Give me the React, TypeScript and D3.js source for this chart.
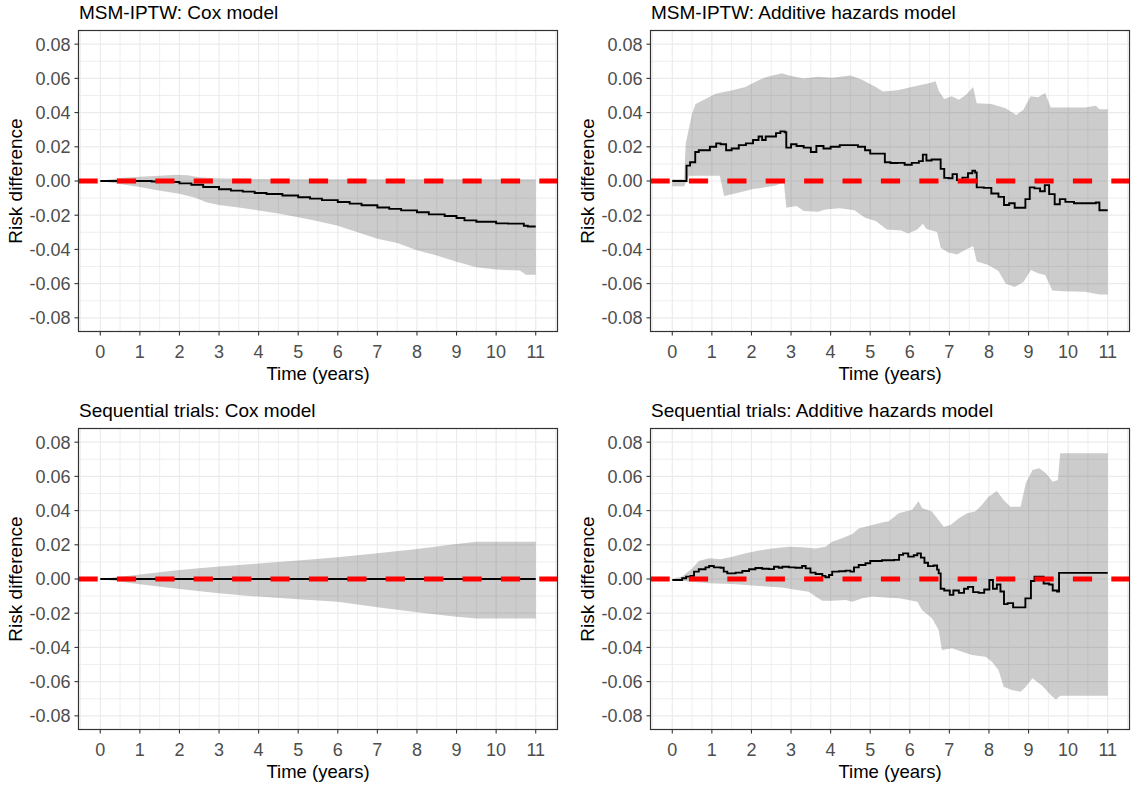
import * as d3 from "d3";

type Pt = [number, number];

const xTicks = d3.range(0, 12);
const xMinor = d3.range(-0.5, 12, 1);
const yTicks = [-0.08, -0.06, -0.04, -0.02, 0, 0.02, 0.04, 0.06, 0.08];
const yMinor = [-0.07, -0.05, -0.03, -0.01, 0.01, 0.03, 0.05, 0.07];

// MSM-IPTW: Cox model
const msmCoxEst: Pt[] = [[0,0],[0.5,0],[1,0],[1.3,-0.0003],[1.6,-0.0006],[2,-0.0014],[2.3,-0.0022],[2.6,-0.0035],[3,-0.0048],[3.3,-0.0056],[3.6,-0.0062],[3.9,-0.007],[4.2,-0.0076],[4.6,-0.0085],[5,-0.0095],[5.3,-0.0103],[5.6,-0.0112],[6,-0.0123],[6.3,-0.0132],[6.6,-0.0142],[7,-0.0155],[7.3,-0.0163],[7.6,-0.0172],[8,-0.0183],[8.3,-0.0195],[8.7,-0.0205],[9,-0.0216],[9.2,-0.023],[9.5,-0.0238],[10,-0.0248],[10.3,-0.0249],[10.7,-0.0262],[10.8,-0.0266],[11,-0.0266]];
const msmCoxHi: Pt[] = [[0,0],[0.5,0.0018],[1,0.0025],[1.5,0.003],[1.9,0.0036],[2.2,0.0034],[2.5,0.0022],[2.9,0.0016],[3.5,0.0013],[4,0.0012],[5,0.001],[7,0.001],[9,0.001],[11,0.001]];
const msmCoxLo: Pt[] = [[0,0],[0.5,-0.0018],[1,-0.0035],[1.3,-0.0048],[1.6,-0.006],[2,-0.0075],[2.4,-0.0098],[2.7,-0.0125],[3,-0.014],[3.5,-0.0155],[4,-0.0172],[4.5,-0.019],[5,-0.0212],[5.5,-0.0235],[6,-0.0262],[6.5,-0.03],[7,-0.0338],[7.5,-0.0362],[8,-0.0405],[8.5,-0.0435],[9,-0.0472],[9.5,-0.0505],[10,-0.0518],[10.6,-0.0524],[10.75,-0.0548],[11,-0.0548]];

// MSM-IPTW: Additive hazards model
const msmAddEst: Pt[] = [[0,0],[0.3,0],[0.36,0.009],[0.45,0.011],[0.58,0.017],[0.67,0.018],[0.86,0.018],[0.95,0.02],[1.11,0.022],[1.22,0.0215],[1.36,0.018],[1.5,0.019],[1.68,0.021],[1.86,0.022],[2.04,0.024],[2.18,0.026],[2.27,0.024],[2.36,0.026],[2.5,0.026],[2.62,0.028],[2.73,0.029],[2.84,0.0285],[2.88,0.0195],[3,0.0215],[3.14,0.0205],[3.32,0.0195],[3.5,0.017],[3.64,0.0205],[3.82,0.019],[4,0.02],[4.23,0.021],[4.5,0.021],[4.69,0.02],[4.87,0.018],[5,0.016],[5.23,0.016],[5.37,0.011],[5.51,0.0105],[5.69,0.0106],[5.87,0.0095],[6.05,0.0106],[6.23,0.0116],[6.33,0.0154],[6.42,0.012],[6.55,0.0126],[6.69,0.0126],[6.78,0.0071],[6.87,0.0018],[6.98,0.0016],[7.08,0.004],[7.19,0.0006],[7.33,0.002],[7.47,0.0045],[7.58,0.006],[7.65,0.005],[7.69,-0.0037],[7.87,-0.004],[8.06,-0.0073],[8.24,-0.0093],[8.38,-0.014],[8.51,-0.013],[8.65,-0.0156],[8.81,-0.0156],[8.92,-0.0106],[9.03,-0.0037],[9.15,-0.0043],[9.29,-0.006],[9.41,-0.0024],[9.52,-0.0077],[9.66,-0.0136],[9.79,-0.0106],[9.93,-0.0122],[10.15,-0.013],[10.43,-0.013],[10.7,-0.0126],[10.79,-0.0171],[11,-0.0171]];
const msmAddHi: Pt[] = [[0,0.001],[0.3,0.001],[0.34,0.022],[0.42,0.0306],[0.5,0.0394],[0.59,0.045],[0.84,0.048],[1.09,0.051],[1.52,0.053],[1.85,0.055],[2.04,0.0573],[2.22,0.0593],[2.41,0.061],[2.77,0.063],[2.95,0.0617],[3.32,0.06],[3.68,0.061],[4.05,0.0603],[4.5,0.0617],[4.78,0.0593],[5.14,0.055],[5.32,0.0524],[5.69,0.053],[6.05,0.055],[6.33,0.0564],[6.51,0.0573],[6.65,0.0583],[6.74,0.0524],[6.87,0.0479],[7.06,0.0495],[7.24,0.0475],[7.42,0.0505],[7.6,0.055],[7.69,0.0455],[8.06,0.045],[8.42,0.0426],[8.69,0.0386],[8.87,0.0416],[9.05,0.0495],[9.24,0.049],[9.42,0.0514],[9.56,0.043],[9.88,0.043],[10.43,0.043],[10.7,0.044],[10.79,0.042],[11,0.042]];
const msmAddLo: Pt[] = [[0,-0.003],[0.3,-0.003],[0.42,0.003],[1.2,0.003],[1.31,-0.0087],[1.59,-0.0073],[2.04,-0.0047],[2.59,-0.0028],[2.82,-0.0008],[2.88,-0.0156],[3.14,-0.0146],[3.32,-0.0175],[3.68,-0.018],[3.87,-0.0166],[4.23,-0.016],[4.6,-0.0171],[4.87,-0.0215],[5.14,-0.0234],[5.42,-0.0284],[5.78,-0.029],[5.96,-0.0307],[6.19,-0.0284],[6.33,-0.025],[6.42,-0.028],[6.69,-0.0298],[6.78,-0.039],[6.96,-0.0416],[7.19,-0.043],[7.42,-0.04],[7.6,-0.038],[7.69,-0.047],[7.97,-0.049],[8.24,-0.0526],[8.42,-0.06],[8.65,-0.062],[8.87,-0.059],[9.06,-0.052],[9.24,-0.054],[9.42,-0.055],[9.6,-0.064],[9.88,-0.0644],[10.43,-0.0648],[10.79,-0.0664],[11,-0.0664]];

// Sequential trials: Cox model
const seqCoxEst: Pt[] = [[0,0],[11,0]];
const seqCoxHi: Pt[] = [[0,0],[1,0.0026],[2,0.0053],[3,0.0073],[4,0.009],[5,0.0108],[6,0.0127],[7,0.015],[8,0.0176],[9,0.0205],[9.5,0.0218],[11,0.0218]];
const seqCoxLo: Pt[] = [[0,0],[1,-0.003],[2,-0.0058],[3,-0.0083],[4,-0.0103],[5,-0.0118],[6,-0.0133],[7,-0.0165],[8,-0.0195],[9,-0.022],[9.5,-0.0231],[11,-0.0231]];

// Sequential trials: Additive hazards model
const seqAddEst: Pt[] = [[0,-0.0006],[0.21,-0.0006],[0.25,0.0004],[0.35,0.0014],[0.46,0.0018],[0.55,0.0043],[0.67,0.0057],[0.84,0.0068],[0.93,0.0076],[1.05,0.0068],[1.22,0.0066],[1.3,0.0043],[1.39,0.0033],[1.6,0.0037],[1.77,0.0047],[1.94,0.0057],[2.1,0.0064],[2.27,0.006],[2.44,0.0058],[2.57,0.0072],[2.69,0.0066],[2.78,0.0072],[2.95,0.0068],[3.11,0.0066],[3.28,0.0076],[3.37,0.0062],[3.49,0.0037],[3.62,0.0029],[3.79,0.0018],[3.87,0.001],[3.96,0.0023],[4.04,0.0043],[4.21,0.0045],[4.38,0.0049],[4.5,0.0043],[4.59,0.0068],[4.71,0.0082],[4.88,0.0092],[5,0.0105],[5.3,0.011],[5.6,0.0112],[5.73,0.0141],[5.83,0.015],[5.96,0.0131],[6.1,0.0139],[6.19,0.015],[6.28,0.0125],[6.37,0.0095],[6.46,0.0075],[6.6,0.0079],[6.69,0.0055],[6.73,0.0033],[6.78,-0.0057],[6.87,-0.0067],[7.01,-0.0093],[7.1,-0.0067],[7.24,-0.0081],[7.37,-0.0057],[7.47,-0.0046],[7.6,-0.0077],[7.74,-0.0081],[7.88,-0.0061],[8.01,-0.0006],[8.1,-0.0057],[8.2,-0.0032],[8.29,-0.0073],[8.38,-0.0147],[8.47,-0.0141],[8.61,-0.0166],[8.83,-0.0166],[8.92,-0.0113],[9.06,-0.0012],[9.15,0.0014],[9.29,0.0014],[9.38,-0.0026],[9.52,-0.0032],[9.61,-0.0067],[9.72,-0.0073],[9.77,0.0036],[11,0.0036]];
const seqAddHi: Pt[] = [[0,0],[0.25,0.0014],[0.5,0.0062],[0.67,0.0105],[0.93,0.0121],[1.22,0.0115],[1.52,0.013],[1.85,0.015],[2.19,0.0166],[2.53,0.0179],[2.95,0.0189],[3.28,0.0185],[3.62,0.0179],[3.87,0.0189],[4.04,0.0218],[4.29,0.0238],[4.55,0.0263],[4.71,0.0296],[5.05,0.0316],[5.3,0.033],[5.47,0.0338],[5.72,0.0384],[5.89,0.0394],[6.06,0.0405],[6.22,0.0455],[6.31,0.0415],[6.56,0.0395],[6.69,0.0355],[6.86,0.0306],[7.03,0.0316],[7.24,0.0355],[7.45,0.0384],[7.65,0.0394],[7.82,0.0433],[7.99,0.0481],[8.2,0.0515],[8.37,0.0462],[8.54,0.0423],[8.8,0.0423],[8.93,0.056],[9.1,0.0637],[9.27,0.0647],[9.44,0.0618],[9.61,0.0569],[9.74,0.0579],[9.8,0.0735],[11,0.0735]];
const seqAddLo: Pt[] = [[0,-0.0006],[0.5,-0.0016],[0.93,-0.0025],[1.52,-0.0029],[2.19,-0.0041],[2.78,-0.0049],[3.03,-0.006],[3.45,-0.0074],[3.62,-0.0103],[3.79,-0.0127],[4.04,-0.0127],[4.38,-0.0123],[4.55,-0.0133],[4.8,-0.0113],[5.05,-0.0103],[5.47,-0.0109],[5.72,-0.0113],[5.97,-0.0123],[6.19,-0.0133],[6.31,-0.0181],[6.56,-0.023],[6.73,-0.0298],[6.81,-0.0415],[7.07,-0.0405],[7.32,-0.0425],[7.57,-0.0444],[7.91,-0.0454],[8.07,-0.0483],[8.24,-0.0532],[8.37,-0.063],[8.58,-0.0649],[8.8,-0.0659],[8.93,-0.063],[9.1,-0.0581],[9.35,-0.0626],[9.56,-0.0678],[9.69,-0.0704],[9.8,-0.0682],[11,-0.0682]];

const font = "'Liberation Sans', Arial, sans-serif";
// ggplot prints a plain hyphen, d3 a unicode minus
const fmt = (v: number) => d3.format(".2f")(v).replace("\u2212", "-");

function Panel(props: { x0: number; y0: number; title: string; est: Pt[]; hi: Pt[]; lo: Pt[] }) {
  const { x0, y0, title, est, hi, lo } = props;
  const left = x0 + 78.5, right = x0 + 557.5;
  const top = y0 + 30.5, bottom = y0 + 331.5;
  const x = d3.scaleLinear().domain([-0.55, 11.55]).range([left, right]);
  const y = d3.scaleLinear().domain([-0.088, 0.088]).range([bottom, top]);

  const stepLine = d3.line<Pt>().x((d) => x(d[0])).y((d) => y(d[1])).curve(d3.curveStepAfter);
  const poly = d3.line<Pt>().x((d) => x(d[0])).y((d) => y(d[1]));
  const band = poly([...hi, ...lo.slice().reverse()]) + "Z";

  return (
    <g>
      <rect x={left} y={top} width={right - left} height={bottom - top} fill="#fff" />
      {xMinor.map((t) => (
        <line key={"xm" + t} x1={x(t)} x2={x(t)} y1={top} y2={bottom} stroke="#EBEBEB" strokeWidth={0.8} />
      ))}
      {yMinor.map((v) => (
        <line key={"ym" + v} x1={left} x2={right} y1={y(v)} y2={y(v)} stroke="#EBEBEB" strokeWidth={0.8} />
      ))}
      {xTicks.map((t) => (
        <line key={"xg" + t} x1={x(t)} x2={x(t)} y1={top} y2={bottom} stroke="#EBEBEB" strokeWidth={1.2} />
      ))}
      {yTicks.map((v) => (
        <line key={"yg" + v} x1={left} x2={right} y1={y(v)} y2={y(v)} stroke="#EBEBEB" strokeWidth={1.2} />
      ))}
      <path d={band} fill="#333333" fillOpacity={0.25} stroke="none" />
      <path d={stepLine(est) ?? ""} fill="none" stroke="#000" strokeWidth={1.9} />
      <line x1={left} x2={right} y1={y(0)} y2={y(0)} stroke="#FF0000" strokeWidth={5} strokeDasharray="19.2 19.2" />
      <rect x={left} y={top} width={right - left} height={bottom - top} fill="none" stroke="#333333" strokeWidth={1.2} />

      {yTicks.map((v) => (
        <g key={"yt" + v}>
          <line x1={left - 4} x2={left} y1={y(v)} y2={y(v)} stroke="#333333" strokeWidth={1.1} />
          <text x={left - 8} y={y(v) + 6.4} textAnchor="end" fontSize={18} fill="#4D4D4D" fontFamily={font}>
            {fmt(v)}
          </text>
        </g>
      ))}
      {xTicks.map((t) => (
        <g key={"xt" + t}>
          <line x1={x(t)} x2={x(t)} y1={bottom} y2={bottom + 4} stroke="#333333" strokeWidth={1.1} />
          <text x={x(t)} y={y0 + 358} textAnchor="middle" fontSize={18} fill="#4D4D4D" fontFamily={font}>
            {t}
          </text>
        </g>
      ))}
      <text x={(left + right) / 2} y={y0 + 380} textAnchor="middle" fontSize={18.5} fill="#000" fontFamily={font}>
        Time (years)
      </text>
      <text
        transform={`translate(${x0 + 22},${(top + bottom) / 2}) rotate(-90)`}
        textAnchor="middle"
        fontSize={19}
        fill="#000"
        fontFamily={font}
      >
        Risk difference
      </text>
      <text x={left + 0.5} y={y0 + 19.3} fontSize={19} fill="#000" fontFamily={font}>
        {title}
      </text>
    </g>
  );
}

export default function App() {
  return (
    <div style={{ position: "absolute", left: 0, top: 0 }}>
      <svg width={1132} height={789} viewBox="0 0 1132 789" style={{ display: "block", background: "#fff" }}>
        <Panel x0={0} y0={0} title="MSM-IPTW: Cox model" est={msmCoxEst} hi={msmCoxHi} lo={msmCoxLo} />
        <Panel x0={572} y0={0} title="MSM-IPTW: Additive hazards model" est={msmAddEst} hi={msmAddHi} lo={msmAddLo} />
        <Panel x0={0} y0={398} title="Sequential trials: Cox model" est={seqCoxEst} hi={seqCoxHi} lo={seqCoxLo} />
        <Panel x0={572} y0={398} title="Sequential trials: Additive hazards model" est={seqAddEst} hi={seqAddHi} lo={seqAddLo} />
      </svg>
    </div>
  );
}
